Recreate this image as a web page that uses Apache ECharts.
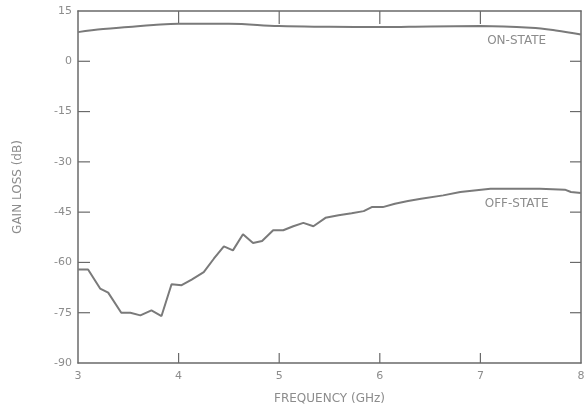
<!DOCTYPE html>
<html>
<head>
<meta charset="utf-8">
<script src="https://cdn.jsdelivr.net/npm/echarts@6/dist/echarts.min.js"></script>
<style>
  html, body { margin: 0; padding: 0; background: #ffffff; }
  #chart { width: 584px; height: 408px; }
</style>
</head>
<body>
<div id="chart"></div>
<script>
// Frequency (GHz) and gain/loss (dB) for the switch in both states
const onStateFreq = [3.0, 3.25, 3.5, 3.75, 4.0, 4.5, 5.0, 5.5, 6.0, 6.5, 7.0, 7.5, 7.75, 8.0];
const onStateGain = [8.7, 9.6, 10.2, 10.8, 11.2, 11.2, 10.5, 10.3, 10.2, 10.4, 10.5, 10.0, 9.2, 8.0];

const offStateFreq = [3.0, 3.1, 3.22, 3.3, 3.43, 3.52, 3.62, 3.73, 3.83, 3.93, 4.03, 4.13, 4.25,
  4.35, 4.45, 4.54, 4.64, 4.74, 4.83, 4.94, 5.04, 5.14, 5.24, 5.34, 5.46, 5.59, 5.72, 5.84,
  5.92, 6.03, 6.15, 6.28, 6.41, 6.63, 6.8, 7.1, 7.59, 7.84, 7.9, 8.0];
const offStateLoss = [-62.1, -62.1, -67.8, -69.0, -75.0, -75.0, -75.8, -74.3, -76.0, -66.5, -66.8,
  -65.1, -62.9, -58.9, -55.2, -56.4, -51.6, -54.2, -53.6, -50.4, -50.4, -49.2, -48.2, -49.2,
  -46.7, -45.9, -45.3, -44.7, -43.5, -43.5, -42.5, -41.7, -41.0, -40.0, -39.0, -38.0, -38.0,
  -38.3, -39.0, -39.3];

const yTicks = [15, 0, -15, -30, -45, -60, -75, -90];
const xTicks = [3, 4, 5, 6, 7, 8];

const seriesNames = ['ON-STATE', 'OFF-STATE'];
const labelPositions = [[7.36, 6.0], [7.36, -42.5]];

const pair = (xs, ys) => xs.map((x, i) => [x, ys[i]]);

const axisColor = '#6a6a6a';
const textColor = '#8c8c8c';
const lineColor = '#7a7a7a';
const font = 'DejaVu Sans';

const xMin = xTicks[0], xMax = xTicks[xTicks.length - 1];
const yMin = yTicks[yTicks.length - 1], yMax = yTicks[0];

// Tick marks on all four sides of the frame, pointing inwards.
// Each entry: [x, y, side] with side 0 = bottom, 1 = top, 2 = left, 3 = right.
const frameTicks = [];
xTicks.slice(1, -1).forEach(x => { frameTicks.push([x, yMin, 0]); frameTicks.push([x, yMax, 1]); });
yTicks.slice(1, -1).forEach(y => { frameTicks.push([xMin, y, 2]); frameTicks.push([xMax, y, 3]); });

const tickLen = [10, 13, 12, 11];
const tickDir = [[0, -1], [0, 1], [1, 0], [-1, 0]];

function renderTick(params, api) {
  const p = api.coord([api.value(0), api.value(1)]);
  const side = api.value(2);
  const d = tickDir[side], len = tickLen[side];
  return {
    type: 'line',
    shape: { x1: p[0], y1: p[1], x2: p[0] + d[0] * len, y2: p[1] + d[1] * len },
    style: { stroke: axisColor, lineWidth: 1.2 }
  };
}

const chart = echarts.init(document.getElementById('chart'), null, { renderer: 'canvas' });

const baseX = {
  type: 'value', min: xMin, max: xMax, interval: 1,
  splitLine: { show: false },
  axisTick: { show: false },
  axisLine: { show: true, onZero: false, lineStyle: { color: axisColor, width: 1.5 } }
};
const baseY = {
  type: 'value', min: yMin, max: yMax, interval: 15,
  splitLine: { show: false },
  axisTick: { show: false },
  axisLine: { show: true, onZero: false, lineStyle: { color: axisColor, width: 1.5 } }
};

function stateLabel(text, coord) {
  return {
    symbol: 'circle',
    symbolSize: 1,
    itemStyle: { color: 'rgba(0,0,0,0)' },
    data: [{ coord: coord }],
    label: {
      show: true, position: 'inside', formatter: text,
      color: textColor, fontFamily: font, fontSize: 12
    }
  };
}

chart.setOption({
  animation: false,
  backgroundColor: '#ffffff',
  grid: { left: 78, right: 3, top: 11, bottom: 45, containLabel: false, outerBoundsMode: 'none' },
  xAxis: [
    Object.assign({}, baseX, {
      position: 'bottom',
      name: 'FREQUENCY (GHz)', nameLocation: 'middle', nameGap: 30,
      nameTextStyle: { color: textColor, fontFamily: font, fontSize: 12 },
      axisLabel: { color: textColor, fontFamily: font, fontSize: 11, margin: 8 }
    }),
    Object.assign({}, baseX, { position: 'top', axisLabel: { show: false } })
  ],
  yAxis: [
    Object.assign({}, baseY, {
      position: 'left',
      name: 'GAIN LOSS (dB)', nameLocation: 'middle', nameGap: 54,
      nameTextStyle: { color: textColor, fontFamily: font, fontSize: 12 },
      axisLabel: { color: textColor, fontFamily: font, fontSize: 11, margin: 6,
        formatter: v => String(v) }
    }),
    Object.assign({}, baseY, { position: 'right', axisLabel: { show: false } })
  ],
  series: [
    {
      type: 'custom', silent: true, clip: false,
      renderItem: renderTick, data: frameTicks, z: 1
    },
    {
      name: seriesNames[0], type: 'line', smooth: 0.4, showSymbol: false,
      data: pair(onStateFreq, onStateGain),
      lineStyle: { color: lineColor, width: 2 }, z: 2,
      markPoint: stateLabel(seriesNames[0], labelPositions[0])
    },
    {
      name: seriesNames[1], type: 'line', smooth: false, showSymbol: false,
      data: pair(offStateFreq, offStateLoss),
      lineStyle: { color: lineColor, width: 2 }, z: 2,
      markPoint: stateLabel(seriesNames[1], labelPositions[1])
    }
  ]
});
</script>
</body>
</html>
